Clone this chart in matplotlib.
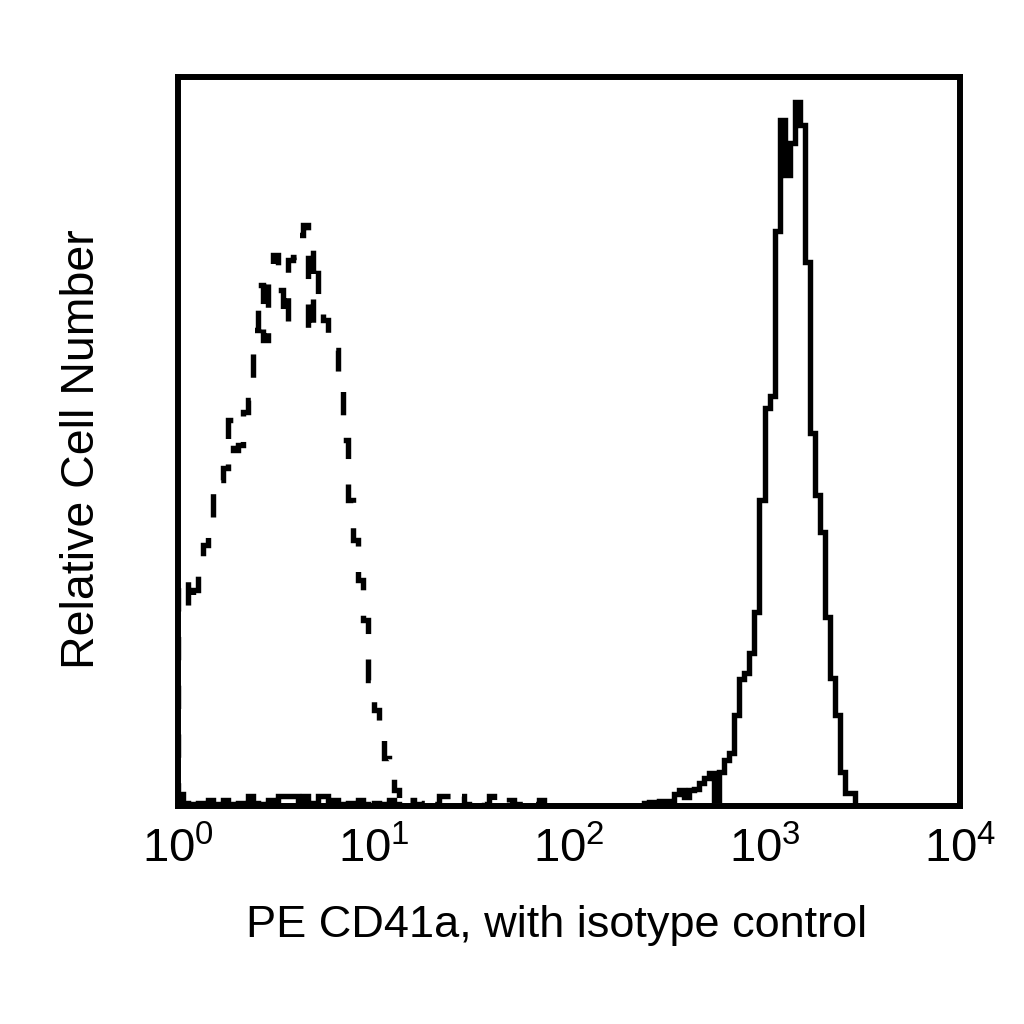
import numpy as np
import matplotlib
matplotlib.use("Agg")
import matplotlib.pyplot as plt
from matplotlib.ticker import FixedLocator, FixedFormatter, NullLocator

plt.rcParams["font.family"] = ["Liberation Sans", "DejaVu Sans"]
plt.rcParams["mathtext.default"] = "regular"

# 156 log channels over 4 decades (1 .. 10^4)
n_channels = 156
decades = [0, 1, 2, 3, 4]
tick_labels = [r"$10^{%d}$" % d for d in decades]

# isotype control (dashed), channels 0..72
iso_counts = [226, 229, 196, 216, 241, 261, 279, 328, 326, 338,
              386, 356, 361, 394, 406, 476, 521, 466, 536, 551,
              516, 481, 546, 549, 571, 581, 471, 556, 508, 486,
              468, 456, 421, 366, 306, 266, 226, 186, 126, 96,
              66, 48, 33, 16, 2, 0, 6, 2, 0, 3,
              10, 2, 10, 10, 10, 3, 10, 2, 0, 3,
              10, 2, 10, 3, 0, 2, 6, 0, 2, 6,
              0, 2, 6]

# PE CD41a (solid), low-level events in channels 0..43
cd41a_low = [12, 3, 2, 0, 3, 2, 6, 2, 0, 6,
             2, 0, 3, 2, 10, 3, 2, 0, 6, 2,
             10, 10, 10, 10, 3, 10, 2, 3, 10, 10,
             2, 6, 2, 0, 3, 2, 6, 2, 0, 3,
             2, 0, 6, 2]

# PE CD41a (solid), main peak starting at channel 93
cd41a_peak_start = 93
cd41a_peak = [3, 4, 1, 5, 5, 2, 12, 16, 9, 16,
              17, 23, 28, 33, 6, 34, 46, 53, 91, 127,
              133, 153, 194, 306, 398, 410, 575, 686, 631, 663,
              704, 681, 544, 373, 311, 274, 189, 128, 91, 34,
              13, 13, 0]

edges = np.logspace(0, 4, n_channels + 1)

iso = np.zeros(n_channels)
iso[:len(iso_counts)] = iso_counts

cd41a = np.zeros(n_channels)
cd41a[:len(cd41a_low)] = cd41a_low
cd41a[cd41a_peak_start:cd41a_peak_start + len(cd41a_peak)] = cd41a_peak

fig = plt.figure(figsize=(10.24, 10.24), dpi=100)
ax = fig.add_axes([178 / 1024, 1 - 806 / 1024, 782 / 1024, 729 / 1024])

ax.stairs(iso, edges, color="black", linewidth=3.9, linestyle=(0, (4.3, 4.7)))
ax.stairs(cd41a, edges, color="black", linewidth=3.9)

ax.set_xscale("log")
ax.set_xlim(1, 1e4)
ax.set_ylim(0, 729)

ax.xaxis.set_major_locator(FixedLocator([10.0 ** d for d in decades]))
ax.xaxis.set_major_formatter(FixedFormatter(tick_labels))
ax.xaxis.set_minor_locator(NullLocator())
ax.set_yticks([])
ax.tick_params(axis="x", length=0, pad=15, labelsize=34)

for s in ax.spines.values():
    s.set_linewidth(4.3)

ax.set_xlabel("PE CD41a, with isotype control", fontsize=32.5)
ax.xaxis.set_label_coords(0.484, -0.136)
ax.set_ylabel("Relative Cell Number", fontsize=33.5)
ax.yaxis.set_label_coords(-0.094, 0.49)

fig.savefig("out.png", dpi=100)
